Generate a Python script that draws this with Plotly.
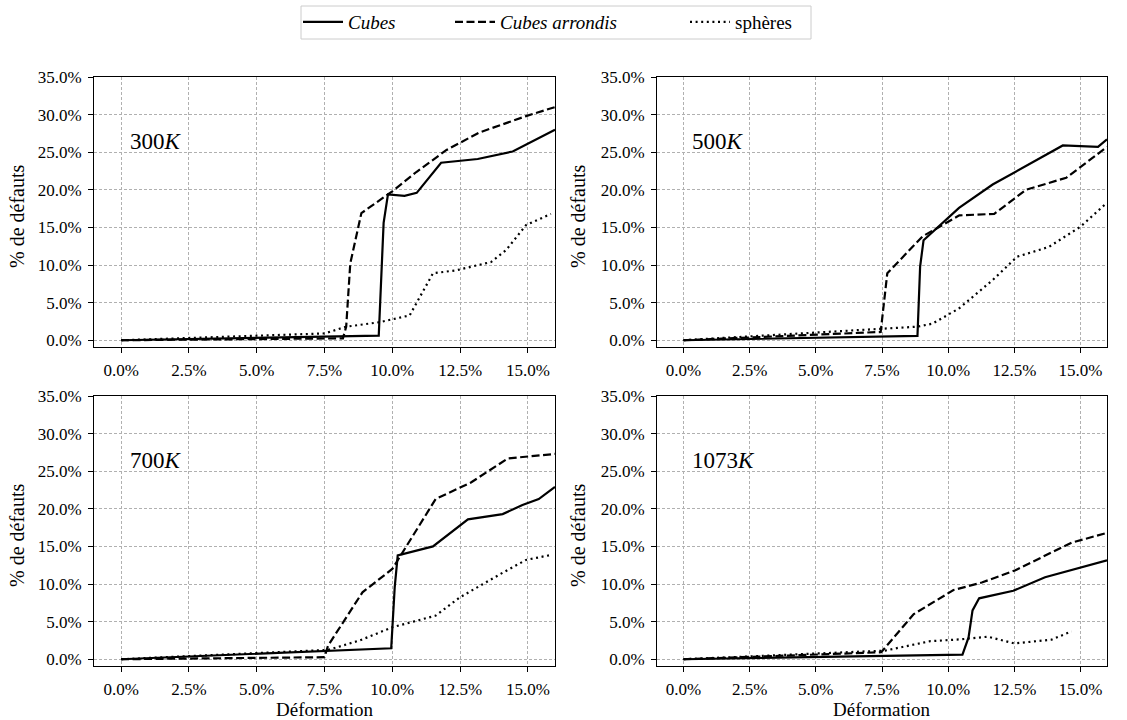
import plotly.graph_objects as go

# ---------------- data (strain %, defects %) ----------------
temps = ["300", "500", "700", "1073"]

x_cubes_300 = [0.0, 9.5, 9.68, 9.84, 10.45, 10.9, 11.8, 13.15, 14.44, 16.0]
y_cubes_300 = [0.0, 0.62, 15.6, 19.4, 19.2, 19.6, 23.6, 24.1, 25.1, 28.0]
x_arr_300 = [0.0, 7.5, 8.18, 8.3, 8.45, 8.86, 10.0, 10.9, 12.0, 13.2, 14.93, 16.0]
y_arr_300 = [0.0, 0.3, 0.25, 1.8, 10.2, 16.9, 19.8, 22.4, 25.3, 27.6, 29.8, 31.0]
x_sph_300 = [0.0, 7.5, 8.3, 9.53, 10.64, 11.5, 12.36, 13.64, 14.2, 14.93, 15.85]
y_sph_300 = [0.0, 0.9, 1.8, 2.4, 3.3, 8.9, 9.3, 10.4, 12.0, 15.3, 16.8]

x_cubes_500 = [0.0, 8.84, 8.94, 9.07, 10.41, 11.68, 14.33, 15.66, 16.0]
y_cubes_500 = [0.0, 0.58, 9.8, 13.3, 17.6, 20.7, 25.9, 25.7, 26.7]
x_arr_500 = [0.0, 7.45, 7.7, 9.03, 10.42, 11.74, 12.94, 14.46, 16.0]
y_arr_500 = [0.0, 1.1, 8.9, 13.8, 16.6, 16.8, 20.0, 21.6, 25.7]
x_sph_500 = [0.0, 8.84, 9.4, 10.4, 11.68, 12.6, 13.8, 15.0, 15.97]
y_sph_500 = [0.0, 1.8, 2.2, 4.2, 8.0, 11.1, 12.4, 15.1, 18.2]

x_cubes_700 = [0.0, 9.96, 10.09, 10.2, 11.5, 12.79, 14.07, 14.8, 15.4, 16.0]
y_cubes_700 = [0.0, 1.46, 9.6, 13.8, 15.0, 18.6, 19.3, 20.5, 21.3, 22.9]
x_arr_700 = [0.0, 7.5, 7.63, 8.9, 10.0, 11.6, 12.9, 14.26, 16.0]
y_arr_700 = [0.0, 0.27, 1.8, 8.9, 12.0, 21.3, 23.5, 26.7, 27.3]
x_sph_700 = [0.0, 7.63, 8.8, 10.0, 11.6, 12.48, 14.07, 14.93, 15.9]
y_sph_700 = [0.0, 1.24, 2.5, 4.25, 5.8, 8.2, 11.5, 13.2, 13.9]

x_cubes_1073 = [0.0, 10.54, 10.77, 10.92, 11.17, 12.46, 13.66, 14.97, 16.0]
y_cubes_1073 = [0.0, 0.62, 2.9, 6.5, 8.1, 9.1, 10.9, 12.2, 13.15]
x_arr_1073 = [0.0, 7.47, 8.7, 10.2, 11.27, 12.52, 14.66, 16.0]
y_arr_1073 = [0.0, 0.93, 6.0, 9.2, 10.2, 11.8, 15.5, 16.8]
x_sph_1073 = [0.0, 7.62, 9.32, 10.5, 11.5, 12.5, 13.9, 14.66]
y_sph_1073 = [0.0, 1.15, 2.4, 2.65, 3.0, 2.1, 2.6, 3.7]

x_ticks = [0, 2.5, 5, 7.5, 10, 12.5, 15]
y_ticks = [0, 5, 10, 15, 20, 25, 30, 35]
x_tick_labels = ["%.1f%%" % v for v in x_ticks]
y_tick_labels = ["%.1f%%" % v for v in y_ticks]

series_names = ["<i>Cubes</i>", "<i>Cubes arrondis</i>", "sphères"]
panels = [
    (x_cubes_300, y_cubes_300, x_arr_300, y_arr_300, x_sph_300, y_sph_300),
    (x_cubes_500, y_cubes_500, x_arr_500, y_arr_500, x_sph_500, y_sph_500),
    (x_cubes_700, y_cubes_700, x_arr_700, y_arr_700, x_sph_700, y_sph_700),
    (x_cubes_1073, y_cubes_1073, x_arr_1073, y_arr_1073, x_sph_1073, y_sph_1073),
]

# ---------------- layout geometry ----------------
W, H = 1127, 720
FONT = "Liberation Serif"
x_doms = [[94 / W, 555 / W], [657 / W, 1107 / W]]
y_doms = [[1 - 347 / H, 1 - 77 / H], [1 - 666 / H, 1 - 396 / H]]

dash_styles = ["solid", "8px,3.5px", "2px,3.6px"]
legend_ids = ["legend", "legend2", "legend3"]
legend_x_px = [298, 450, 685]

fig = go.Figure()

for i, data in enumerate(panels):
    row, col = divmod(i, 2)
    ax_id = "" if i == 0 else str(i + 1)
    xs = [data[0], data[2], data[4]]
    ys = [data[1], data[3], data[5]]
    for k in range(3):
        fig.add_trace(go.Scatter(
            x=xs[k], y=ys[k], mode="lines", name=series_names[k],
            line=dict(color="black", width=2.2, dash=dash_styles[k]),
            showlegend=(i == 0), legendgroup=str(k), legend=legend_ids[k],
            xaxis="x" + ax_id, yaxis="y" + ax_id,
        ))
    axis_common = dict(
        showline=True, mirror=True, linecolor="black", linewidth=1,
        ticks="outside", ticklen=5, tickcolor="black", tickwidth=1,
        showgrid=True, gridcolor="#b0b0b0", gridwidth=0.8, griddash="3px,2px",
        zeroline=False, tickfont=dict(family=FONT, size=17, color="black"),
        ticklabelstandoff=3,
    )
    fig.update_layout(**{
        "xaxis" + ax_id: dict(axis_common, domain=x_doms[col], range=[-1.0, 16.0],
                              tickmode="array", tickvals=x_ticks, ticktext=x_tick_labels,
                              anchor="y" + ax_id),
        "yaxis" + ax_id: dict(axis_common, domain=y_doms[row], range=[-0.9, 35.0],
                              tickmode="array", tickvals=y_ticks, ticktext=y_tick_labels,
                              anchor="x" + ax_id),
    })
    fig.add_annotation(
        x=0.25, y=26.4, xref="x" + ax_id, yref="y" + ax_id,
        text=temps[i] + "<i>K</i>", showarrow=False, xanchor="left", yanchor="middle",
        font=dict(family=FONT, size=23, color="black"),
    )
    # y axis title
    ytx = 17 if col == 0 else 578
    fig.add_annotation(
        x=ytx / W, y=(y_doms[row][0] + y_doms[row][1]) / 2 - 4 / H,
        xref="paper", yref="paper",
        text="% de défauts", textangle=-90, showarrow=False,
        xanchor="center", yanchor="middle",
        font=dict(family=FONT, size=20, color="black"),
    )
    if row == 1:
        fig.add_annotation(
            x=(x_doms[col][0] + x_doms[col][1]) / 2, y=1 - 709 / H,
            xref="paper", yref="paper", text="Déformation", showarrow=False,
            xanchor="center", yanchor="middle",
            font=dict(family=FONT, size=19, color="black"),
        )

legend_common = dict(
    orientation="h", y=1 - 22 / H, yanchor="middle", xanchor="left",
    borderwidth=0, bgcolor="rgba(0,0,0,0)", itemwidth=40,
    font=dict(family=FONT, size=19, color="black"),
)
fig.update_layout(
    width=W, height=H,
    margin=dict(l=0, r=0, t=0, b=0, autoexpand=False),
    paper_bgcolor="white", plot_bgcolor="white",
    font=dict(family=FONT, color="black"),
    legend=dict(legend_common, x=legend_x_px[0] / W),
    legend2=dict(legend_common, x=legend_x_px[1] / W),
    legend3=dict(legend_common, x=legend_x_px[2] / W),
    shapes=[dict(
        type="rect", xref="paper", yref="paper",
        x0=301 / W, x1=811 / W, y0=1 - 39 / H, y1=1 - 6 / H,
        line=dict(color="#cccccc", width=1), fillcolor="rgba(0,0,0,0)", layer="below",
    )],
)

fig.write_html(
    "out.html",
    config={"displayModeBar": False},
    post_script="document.body.style.margin='0px';document.body.style.overflow='hidden';",
)
